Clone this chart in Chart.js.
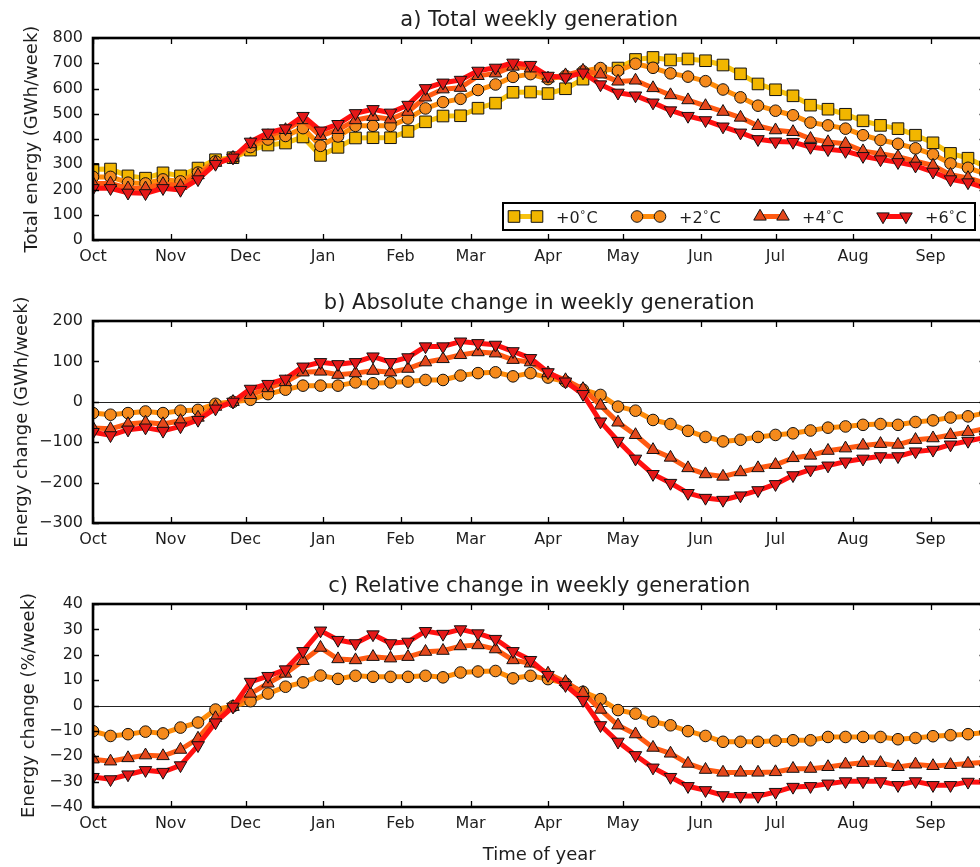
<!DOCTYPE html>
<html>
<head>
<meta charset="utf-8">
<title>Weekly generation</title>
<script src="https://cdn.jsdelivr.net/npm/chart.js@4.4.1/dist/chart.umd.min.js"></script>
<style>
    html, body { margin: 0; padding: 0; background: #fff; }
    #fig { position: relative; width: 980px; height: 867px; overflow: hidden; }
    #fig canvas { position: absolute; left: 0; }
</style>
</head>
<body>
<div id="fig">
    <canvas id="panelA" width="1040" height="285" style="top:0"></canvas>
    <canvas id="panelB" width="1040" height="285" style="top:285px"></canvas>
    <canvas id="panelC" width="1040" height="297" style="top:570px"></canvas>
</div>
<script>
// x axis: days after 1 October
const monthNames = ["Oct", "Nov", "Dec", "Jan", "Feb", "Mar", "Apr", "May", "Jun", "Jul", "Aug", "Sep"];
const monthStart = [0, 31, 61, 92, 123, 151, 182, 212, 243, 273, 304, 335];
const weekDay = Array.from({ length: 52 }, (_, i) => 7 * i);

const warming = ["+0", "+2", "+4", "+6"];

// a) total weekly generation (GWh/week)
const total0 = [
    280, 281, 254, 245, 266, 254, 285, 318, 326, 356,
    376, 384, 408, 335, 367, 404, 405, 405, 430, 468,
    491, 492, 522, 542, 585, 586, 580, 599, 637, 668,
    681, 715, 723, 713, 717, 710, 693, 658, 618, 595,
    571, 534, 518, 498, 472, 454, 441, 415, 385, 343,
    324, 290,
];
const total2 = [
    250, 250, 227, 224, 240, 232, 267, 311, 326, 368,
    398, 412, 443, 373, 410, 452, 452, 452, 481, 521,
    546, 559, 594, 616, 646, 657, 637, 650, 668, 681,
    670, 698, 682, 660, 647, 629, 596, 565, 532, 512,
    494, 465, 454, 441, 415, 396, 381, 363, 339, 303,
    286, 262,
];
const total4 = [
    224, 224, 205, 205, 222, 215, 257, 306, 326, 380,
    412, 436, 475, 412, 436, 475, 488, 478, 508, 565,
    597, 603, 650, 660, 687, 680, 640, 653, 671, 656,
    628, 632, 602, 574, 554, 531, 508, 485, 452, 435,
    428, 401, 388, 381, 352, 342, 330, 312, 295, 259,
    246, 225,
];
const total6 = [
    205, 205, 187, 185, 205, 198, 240, 301, 326, 389,
    425, 442, 491, 433, 459, 502, 518, 504, 535, 601,
    623, 634, 670, 682, 702, 693, 650, 644, 663, 616,
    583, 572, 544, 513, 491, 474, 449, 425, 399, 390,
    388, 368, 359, 352, 332, 319, 308, 294, 270, 240,
    228, 205,
];

// b) absolute change against +0 (GWh/week)
const abs2 = [
    -28, -32, -28, -24, -28, -22, -20, -5, 0, 5,
    19, 30, 40, 40, 40, 48, 46, 48, 50, 54,
    54, 65, 71, 73, 63, 71, 60, 50, 30, 17,
    -12, -22, -45, -55, -72, -87, -98, -94, -87, -82,
    -78, -71, -64, -61, -57, -55, -57, -50, -46, -39,
    -36, -28,
];
const abs4 = [
    -65, -67, -55, -51, -55, -47, -39, -12, 0, 17,
    34, 49, 73, 75, 67, 71, 77, 73, 82, 98,
    106, 116, 123, 120, 104, 98, 71, 54, 32, -9,
    -51, -82, -119, -138, -164, -179, -185, -174, -164, -156,
    -139, -133, -121, -115, -108, -104, -106, -94, -90, -82,
    -75, -66,
];
const abs6 = [
    -75, -83, -69, -64, -72, -61, -45, -17, 0, 32,
    44, 57, 87, 98, 93, 98, 112, 98, 110, 137,
    137, 149, 145, 141, 125, 108, 73, 50, 19, -49,
    -97, -141, -179, -201, -226, -238, -243, -232, -219, -204,
    -182, -168, -158, -148, -141, -135, -135, -123, -119, -106,
    -97, -88,
];

// c) relative change against +0 (%/week)
const rel2 = [
    -10.1, -12, -11.3, -10.3, -11, -8.7, -6.7, -1.6, -0.3, 1.7,
    4.7, 7.4, 9.1, 11.8, 10.5, 11.7, 11.3, 11.3, 11.3, 11.7,
    11.1, 13, 13.4, 13.6, 10.7, 11.7, 10.4, 8.7, 5.4, 2.5,
    -1.8, -3.2, -6.4, -7.8, -10.1, -12, -14.3, -14.3, -14.3, -13.9,
    -13.7, -13.7, -12.4, -12.4, -12.4, -12.4, -13.3, -12.8, -12.1, -11.7,
    -11.3, -10.6,
];
const rel4 = [
    -21.2, -22, -20.7, -19.6, -19.9, -17.4, -13, -4.9, -0.5, 4.7,
    8.7, 12.6, 17.6, 22.8, 18.3, 17.9, 19.2, 18.6, 19.2, 21.2,
    21.6, 23.4, 23.8, 22.2, 17.9, 16.6, 12.6, 9.3, 5, -1.6,
    -7.8, -11.3, -16.6, -18.9, -22.9, -25.3, -26.4, -26.4, -26.4, -26.2,
    -24.9, -24.9, -24.2, -23.2, -22.6, -22.6, -24.2, -23.2, -23.8, -23.4,
    -22.9, -22.4,
];
const rel6 = [
    -28.2, -29.1, -27.2, -25.5, -26.2, -23.6, -15.7, -6.7, -0.5, 9.3,
    11.6, 14.2, 21.4, 29.5, 25.8, 24.5, 28, 24.5, 25.1, 29.3,
    28.2, 30, 28.4, 26.2, 21.4, 17.9, 12, 8, 2.1, -7.8,
    -14.3, -19.6, -24.5, -28.2, -31.8, -33.4, -35.4, -35.7, -35.7, -34.1,
    -32.1, -31.8, -30.8, -29.9, -29.9, -29.9, -31.4, -29.9, -31.4, -31.4,
    -30.1, -30.2,
];

const FONT = '"DejaVu Sans", "Liberation Sans", sans-serif';
const TEXT = "#1e1e1e";
Chart.defaults.font.family = FONT;
Chart.defaults.font.size = 16;
Chart.defaults.color = TEXT;

// one look per warming level: line colour, marker fill and marker shape
const looks = [
    { line: "#f7c20f", fill: "#f2b600", style: "rect", radius: 8.2, rotation: 0 },
    { line: "#ff8c0a", fill: "#f58a1c", style: "circle", radius: 5.8, rotation: 0 },
    { line: "#ff5a12", fill: "#e4481c", style: "triangle", radius: 7.2, rotation: 0 },
    { line: "#ff1010", fill: "#e41818", style: "triangle", radius: 7.2, rotation: 180 },
];

function series(level, values) {
    const look = looks[level];
    return {
        label: warming[level],
        data: values.map((v, i) => ({ x: weekDay[i], y: v })),
        borderColor: look.line,
        backgroundColor: look.fill,
        borderWidth: 5,
        borderJoinStyle: "round",
        pointStyle: look.style,
        pointRadius: look.radius,
        pointRotation: look.rotation,
        pointBackgroundColor: look.fill,
        pointBorderColor: "#111",
        pointBorderWidth: 1,
        tension: 0,
        clip: 0,
        order: 3 - level,
    };
}

function minusSign(v) {
    return v < 0 ? "\u2212" + Math.abs(v) : String(v);
}

function degreeLabel(ctx, label, x, y) {
    ctx.font = "16px " + FONT;
    ctx.fillText(label, x, y);
    const w = ctx.measureText(label).width;
    ctx.font = "11px " + FONT;
    ctx.fillText("\u00b0", x + w + 0.5, y - 5);
    ctx.font = "16px " + FONT;
    ctx.fillText("C", x + w + 7, y);
}

const panelDecor = {
    id: "panelDecor",
    beforeDatasetsDraw(chart, args, opts) {
        if (!opts.zeroLine) return;
        const { ctx, chartArea: a, scales: { y } } = chart;
        const py = Math.round(y.getPixelForValue(0)) + 0.5;
        ctx.save();
        ctx.strokeStyle = "#222";
        ctx.lineWidth = 1.2;
        ctx.beginPath();
        ctx.moveTo(a.left, py);
        ctx.lineTo(a.right, py);
        ctx.stroke();
        ctx.restore();
    },
    afterDatasetsDraw(chart, args, opts) {
        const { ctx, chartArea: a, scales: { x, y } } = chart;
        ctx.save();

        // inward ticks on all four sides
        ctx.strokeStyle = "#000";
        ctx.lineWidth = 1.3;
        ctx.beginPath();
        x.ticks.forEach((t) => {
            const px = Math.round(x.getPixelForValue(t.value)) + 0.5;
            ctx.moveTo(px, a.bottom);
            ctx.lineTo(px, a.bottom - 6);
            ctx.moveTo(px, a.top);
            ctx.lineTo(px, a.top + 6);
        });
        y.ticks.forEach((t) => {
            const py = Math.round(y.getPixelForValue(t.value)) + 0.5;
            ctx.moveTo(a.left, py);
            ctx.lineTo(a.left + 6, py);
            ctx.moveTo(a.right, py);
            ctx.lineTo(a.right - 6, py);
        });
        ctx.stroke();

        ctx.lineWidth = 2.6;
        ctx.strokeRect(a.left, a.top, a.right - a.left, a.bottom - a.top);

        // legend with two markers per handle
        if (opts.legend) {
            const bw = 472, bh = 27;
            const bx = a.right - 10.5 - bw, by = a.bottom - 10 - bh;
            ctx.fillStyle = "#fff";
            ctx.fillRect(bx, by, bw, bh);
            ctx.lineWidth = 2;
            ctx.strokeStyle = "#000";
            ctx.strokeRect(bx, by, bw, bh);
            const cy = by + bh / 2;
            chart.data.datasets.forEach((ds, i) => {
                const x0 = bx + 11 + i * 123;
                ctx.strokeStyle = ds.borderColor;
                ctx.lineWidth = ds.borderWidth;
                ctx.beginPath();
                ctx.moveTo(x0, cy);
                ctx.lineTo(x0 + 23, cy);
                ctx.stroke();
                ctx.fillStyle = ds.pointBackgroundColor;
                ctx.strokeStyle = ds.pointBorderColor;
                ctx.lineWidth = ds.pointBorderWidth;
                [x0, x0 + 23].forEach((mx) => {
                    Chart.helpers.drawPoint(ctx, {
                        pointStyle: ds.pointStyle,
                        radius: ds.pointRadius,
                        rotation: ds.pointRotation,
                        borderWidth: ds.pointBorderWidth,
                    }, mx, cy);
                });
                ctx.fillStyle = TEXT;
                ctx.textAlign = "left";
                ctx.textBaseline = "alphabetic";
                degreeLabel(ctx, ds.label, x0 + 42, cy + 6);
            });
        }

        // titles
        ctx.fillStyle = TEXT;
        ctx.textAlign = "center";
        ctx.textBaseline = "alphabetic";
        const cx = (a.left + a.right) / 2;
        ctx.font = "21px " + FONT;
        ctx.fillText(opts.title, cx, a.top - 12.5);

        ctx.font = "18px " + FONT;
        if (opts.xTitle) ctx.fillText(opts.xTitle, cx, opts.xTitleY);

        ctx.translate(opts.yTitleX, (a.top + a.bottom) / 2);
        ctx.rotate(-Math.PI / 2);
        ctx.fillText(opts.yTitle, 0, 0);
        ctx.restore();
    },
};

function makePanel(id, p) {
    return new Chart(document.getElementById(id), {
        type: "line",
        data: { datasets: p.datasets },
        options: {
            responsive: false,
            animation: false,
            events: [],
            layout: { padding: { top: p.top, right: 54.5, left: 0, bottom: 0 } },
            scales: {
                x: {
                    type: "linear",
                    min: 0,
                    max: weekDay[weekDay.length - 1],
                    grid: { display: false, drawTicks: false },
                    border: { display: false },
                    afterBuildTicks: (s) => {
                        s.ticks = monthStart.map((d) => ({ value: d }));
                    },
                    afterFit: (s) => {
                        s.height = p.below;
                    },
                    ticks: {
                        autoSkip: false,
                        maxRotation: 0,
                        padding: 7,
                        callback: (v) => monthNames[monthStart.indexOf(v)],
                    },
                },
                y: {
                    min: p.yMin,
                    max: p.yMax,
                    grid: { display: false, drawTicks: false },
                    border: { display: false },
                    afterFit: (s) => {
                        s.width = 93;
                    },
                    ticks: { stepSize: p.yStep, padding: 10, callback: minusSign },
                },
            },
            plugins: {
                legend: { display: false },
                tooltip: { enabled: false },
                panelDecor: {
                    title: p.title,
                    yTitle: p.yTitle,
                    yTitleX: p.yTitleX,
                    xTitle: p.xTitle,
                    xTitleY: p.xTitleY,
                    zeroLine: p.zeroLine,
                    legend: p.legend,
                },
            },
        },
        plugins: [panelDecor],
    });
}

makePanel("panelA", {
    title: "a) Total weekly generation",
    yTitle: "Total energy (GWh/week)",
    yTitleX: 37,
    top: 38,
    below: 45,
    yMin: 0,
    yMax: 800,
    yStep: 100,
    legend: true,
    datasets: [series(0, total0), series(1, total2), series(2, total4), series(3, total6)],
});

makePanel("panelB", {
    title: "b) Absolute change in weekly generation",
    yTitle: "Energy change (GWh/week)",
    yTitleX: 27,
    top: 36,
    below: 47,
    yMin: -300,
    yMax: 200,
    yStep: 100,
    zeroLine: true,
    datasets: [series(1, abs2), series(2, abs4), series(3, abs6)],
});

makePanel("panelC", {
    title: "c) Relative change in weekly generation",
    yTitle: "Energy change (%/week)",
    yTitleX: 34,
    xTitle: "Time of year",
    xTitleY: 290,
    top: 34,
    below: 60,
    yMin: -40,
    yMax: 40,
    yStep: 10,
    zeroLine: true,
    datasets: [series(1, rel2), series(2, rel4), series(3, rel6)],
});
</script>
</body>
</html>
